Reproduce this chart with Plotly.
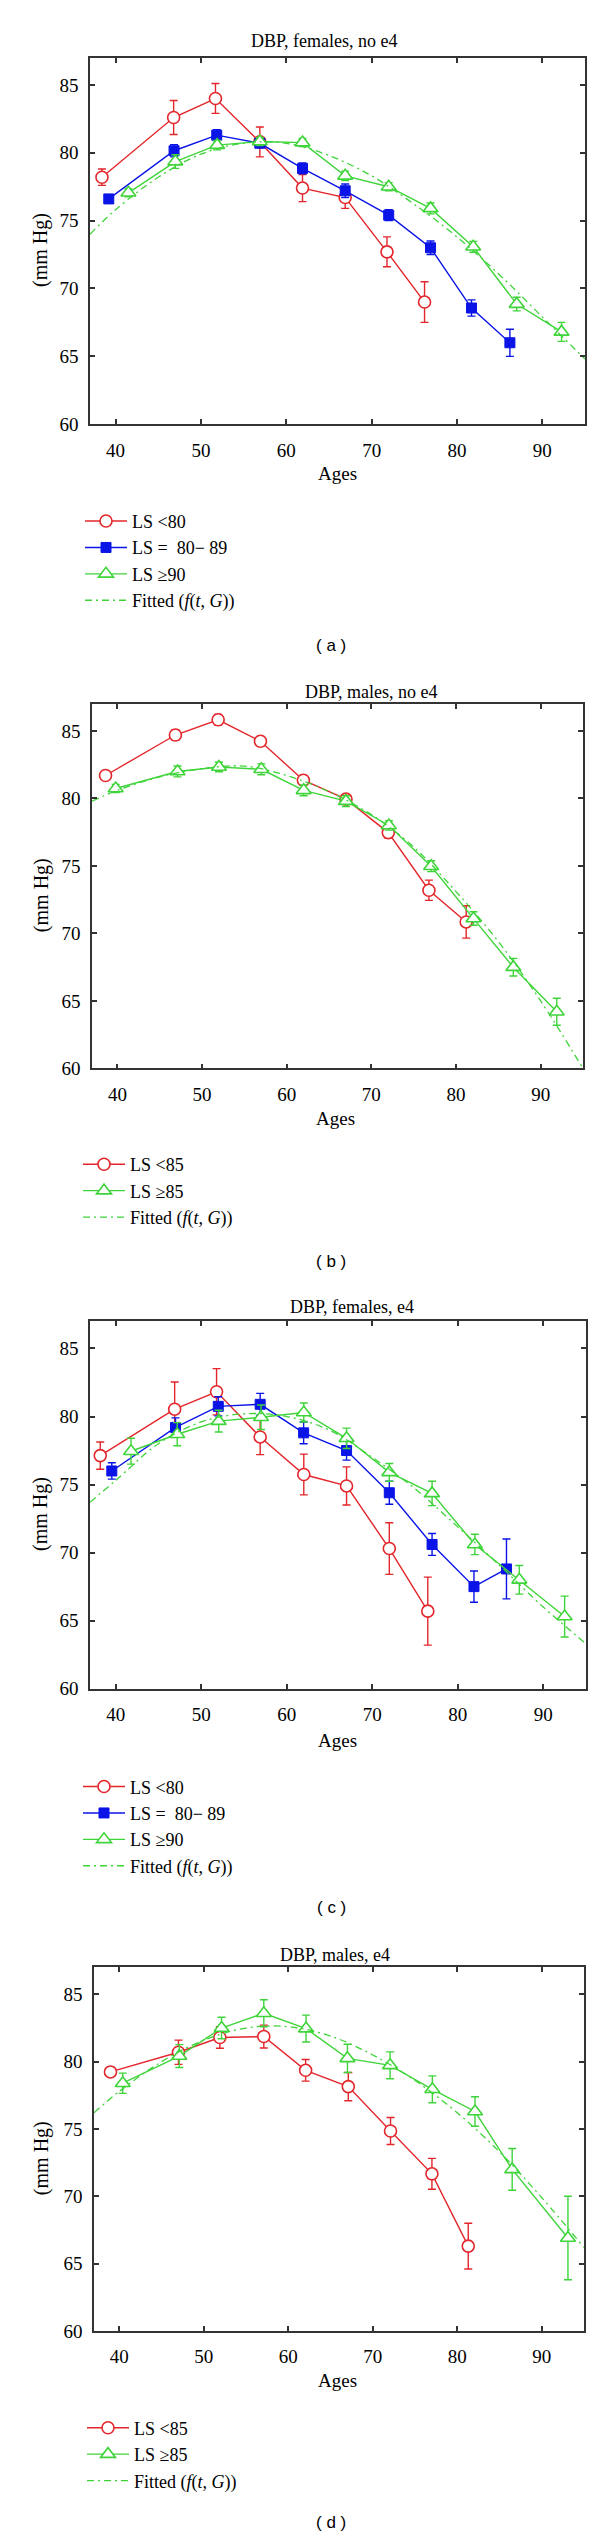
import plotly.graph_objects as go

W, H = 600, 2540

# ---------------- data ----------------
# Panel (a) DBP, females, no e4
a_red_x = [38.4, 46.8, 51.7, 56.9, 61.9, 66.9, 71.8, 76.2]
a_red_y = [78.2, 82.6, 84.0, 80.8, 77.4, 76.7, 72.7, 69.0]
a_red_e = [0.6, 1.25, 1.1, 1.1, 1.0, 0.8, 1.1, 1.5]
a_blue_x = [39.2, 46.85, 51.85, 56.9, 61.9, 66.9, 72.0, 76.9, 81.7, 86.2]
a_blue_y = [76.6, 80.15, 81.3, 80.7, 78.85, 77.2, 75.4, 73.0, 68.56, 66.0]
a_blue_e = [0.2, 0.45, 0.4, 0.3, 0.4, 0.5, 0.4, 0.5, 0.6, 1.0]
a_green_x = [41.5, 47.0, 51.9, 56.9, 61.9, 66.9, 72.0, 76.9, 81.9, 87.0, 92.25]
a_green_y = [77.05, 79.35, 80.56, 80.83, 80.75, 78.3, 77.5, 75.9, 73.07, 68.85, 66.8]
a_green_e = [0.3, 0.5, 0.35, 0.3, 0.3, 0.35, 0.3, 0.4, 0.4, 0.5, 0.7]
a_fit_x = [37, 40, 45, 50, 55, 60, 65, 70, 75, 80, 85, 90, 95]
a_fit_y = [74.0, 75.8, 78.2, 79.9, 80.7, 80.7, 79.8, 78.3, 76.2, 73.8, 71.0, 67.9, 64.8]

# Panel (b) DBP, males, no e4
b_red_x = [38.6, 46.85, 51.9, 56.9, 61.97, 67.0, 72.0, 76.8, 81.2]
b_red_y = [81.7, 84.7, 85.83, 84.24, 81.35, 79.95, 77.47, 73.2, 70.85]
b_red_e = [0.2, 0.4, 0.4, 0.35, 0.35, 0.3, 0.4, 0.75, 1.2]
b_green_x = [39.8, 47.1, 52.0, 57.0, 62.0, 67.0, 72.07, 77.06, 82.06, 86.77, 91.9]
b_green_y = [80.74, 82.0, 82.33, 82.16, 80.6, 79.8, 78.0, 74.98, 71.1, 67.5, 64.2]
b_green_e = [0.3, 0.4, 0.35, 0.4, 0.4, 0.4, 0.35, 0.4, 0.5, 0.65, 1.0]
b_fit_x = [37, 40, 45, 50, 55, 60, 65, 70, 75, 80, 85, 90, 95]
b_fit_y = [79.8, 80.6, 81.6, 82.2, 82.4, 81.7, 80.5, 78.8, 76.4, 73.1, 69.4, 65.0, 60.0]

# Panel (c) DBP, females, e4
c_red_x = [38.2, 46.9, 51.8, 56.9, 62.0, 67.0, 72.0, 76.5]
c_red_y = [77.13, 80.54, 81.82, 78.5, 75.74, 74.9, 70.3, 65.7]
c_red_e = [1.0, 2.0, 1.7, 1.3, 1.5, 1.4, 1.9, 2.5]
c_blue_x = [39.55, 47.0, 52.0, 56.9, 61.98, 67.0, 72.0, 77.0, 81.9, 85.7]
c_blue_y = [76.0, 79.2, 80.75, 80.9, 78.8, 77.5, 74.4, 70.6, 67.5, 68.8]
c_blue_e = [0.6, 0.7, 0.7, 0.8, 0.8, 0.7, 0.85, 0.8, 1.15, 2.2]
c_green_x = [41.8, 47.2, 52.05, 57.0, 62.0, 67.0, 72.0, 77.0, 82.0, 87.2, 92.5]
c_green_y = [77.45, 78.7, 79.66, 79.95, 80.3, 78.4, 75.9, 74.35, 70.6, 68.0, 65.3]
c_green_e = [0.95, 0.85, 0.8, 0.9, 0.7, 0.75, 0.65, 0.9, 0.75, 1.05, 1.5]
c_fit_x = [37, 40, 45, 50, 55, 60, 65, 70, 75, 80, 85, 90, 95]
c_fit_y = [73.7, 75.3, 78.0, 79.6, 80.2, 80.0, 79.0, 77.0, 74.7, 71.9, 69.0, 66.0, 63.3]

# Panel (d) DBP, males, e4
d_red_x = [38.95, 47.0, 51.9, 57.1, 62.05, 67.1, 72.1, 77.0, 81.3]
d_red_y = [79.24, 80.7, 81.8, 81.87, 79.36, 78.15, 74.85, 71.67, 66.3]
d_red_e = [0.3, 0.9, 0.8, 0.85, 0.8, 1.05, 1.0, 1.15, 1.7]
d_green_x = [40.4, 47.1, 52.1, 57.1, 62.1, 67.0, 72.05, 77.05, 82.1, 86.5, 93.1]
d_green_y = [78.4, 80.42, 82.5, 83.6, 82.46, 80.25, 79.73, 77.95, 76.3, 72.0, 66.9]
d_green_e = [0.75, 0.85, 0.8, 1.0, 1.0, 1.05, 1.0, 1.0, 1.1, 1.55, 3.1]
d_fit_x = [37, 40, 45, 50, 55, 60, 65, 70, 75, 80, 85, 90, 95]
d_fit_y = [76.2, 77.8, 80.0, 81.6, 82.5, 82.6, 81.9, 80.5, 78.6, 76.2, 73.3, 69.9, 66.2]

titles = ["DBP, females, no e4", "DBP, males, no e4", "DBP, females, e4", "DBP, males, e4"]
panel_tags = ["( a )", "( b )", "( c )", "( d )"]
x_ticks = [40, 50, 60, 70, 80, 90]
y_ticks = [60, 65, 70, 75, 80, 85]
x_title = "Ages"
y_title = "(mm Hg)"
fit_name = "Fitted (<i>f</i>(<i>t</i>, <i>G</i>))"

# ---------------- styling / layout ----------------
RED = "#e3262b"
BLUE = "#0a14e6"
GREEN = "#3fd43a"
SERIF = "Liberation Serif"

# pixel boxes of the plot areas (x0, x1, y0, y1)
boxes = [(82, 577, 50, 418), (84, 575, 699, 1065), (82, 578, 1319, 1688), (86, 576, 1968, 2333)]
title_pos = [(316, 33), (363, 687), (344, 1305), (327, 1955)]
ages_pos = [(329, 468), (327, 1115), (329, 1740), (329, 2383)]
tag_pos = [(323, 640), (323, 1259), (323, 1908), (323, 2525)]
legend_pos = [(72, 497), (70, 1143), (70, 1768), (74, 2412)]


def px(x):
    return x / W


def py(y):
    return 1 - y / H


panels = [
    [("LS <80", a_red_x, a_red_y, a_red_e, "red"),
     ("LS =  80\u2212 89", a_blue_x, a_blue_y, a_blue_e, "blue"),
     ("LS \u226590", a_green_x, a_green_y, a_green_e, "green"),
     (fit_name, a_fit_x, a_fit_y, None, "fit")],
    [("LS <85", b_red_x, b_red_y, b_red_e, "red"),
     ("LS \u226585", b_green_x, b_green_y, b_green_e, "green"),
     (fit_name, b_fit_x, b_fit_y, None, "fit")],
    [("LS <80", c_red_x, c_red_y, c_red_e, "red"),
     ("LS =  80\u2212 89", c_blue_x, c_blue_y, c_blue_e, "blue"),
     ("LS \u226590", c_green_x, c_green_y, c_green_e, "green"),
     (fit_name, c_fit_x, c_fit_y, None, "fit")],
    [("LS <85", d_red_x, d_red_y, d_red_e, "red"),
     ("LS \u226585", d_green_x, d_green_y, d_green_e, "green"),
     (fit_name, d_fit_x, d_fit_y, None, "fit")],
]

fig = go.Figure()
layout = dict(
    width=W, height=H, margin=dict(l=0, r=0, t=0, b=0),
    paper_bgcolor="white", plot_bgcolor="white",
    font=dict(family=SERIF, size=18, color="black"),
    annotations=[],
)

for i, series in enumerate(panels):
    n = i + 1
    xa = "x" if n == 1 else f"x{n}"
    ya = "y" if n == 1 else f"y{n}"
    lg = "legend" if n == 1 else f"legend{n}"
    for name, xs, ys, es, kind in series:
        if kind == "fit":
            fig.add_trace(go.Scatter(
                x=xs, y=ys, name=name, mode="lines", xaxis=xa, yaxis=ya, legend=lg,
                line=dict(color=GREEN, width=1.3, dash="7px,4px,2px,4px", shape="spline"),
            ))
            continue
        if kind == "red":
            col = RED
            mk = dict(symbol="circle", size=12, color="white", line=dict(color=col, width=1.6))
        elif kind == "blue":
            col = BLUE
            mk = dict(symbol="square", size=10, color=col, line=dict(color=col, width=1))
        else:
            col = GREEN
            mk = dict(symbol="triangle-up", size=13, color="white", line=dict(color=col, width=1.6))
        fig.add_trace(go.Scatter(
            x=xs, y=ys, name=name, mode="lines+markers", xaxis=xa, yaxis=ya, legend=lg,
            line=dict(color=col, width=1.4), marker=mk,
            error_y=dict(type="data", array=es, color=col, thickness=1.4, width=4),
        ))

    x0, x1, y0, y1 = boxes[i]
    axis_common = dict(showline=True, linecolor="#333", linewidth=1.5, mirror="ticks",
                       ticks="inside", ticklen=5, tickwidth=1.5, tickcolor="#333",
                       showgrid=False, zeroline=False,
                       tickfont=dict(family=SERIF, size=19, color="black"))
    layout["xaxis" if n == 1 else f"xaxis{n}"] = dict(
        domain=[px(x0), px(x1)], anchor=ya, range=[37, 95], tickvals=x_ticks,
        ticklabelstandoff=8, **axis_common)
    layout["yaxis" if n == 1 else f"yaxis{n}"] = dict(
        domain=[py(y1), py(y0)], anchor=xa, range=[60, 87], tickvals=y_ticks,
        ticklabelstandoff=6, **axis_common)

    lx, ly = legend_pos[i]
    layout[lg] = dict(x=px(lx), y=py(ly), xanchor="left", yanchor="top",
                      bgcolor="rgba(0,0,0,0)", font=dict(family=SERIF, size=18),
                      tracegroupgap=0, itemwidth=42)

    tx, ty = title_pos[i]
    layout["annotations"].append(dict(text=titles[i], x=px(tx), y=py(ty), xref="paper", yref="paper",
                                      showarrow=False, xanchor="center", yanchor="middle",
                                      font=dict(family=SERIF, size=18)))
    ax_, ay_ = ages_pos[i]
    layout["annotations"].append(dict(text=x_title, x=px(ax_), y=py(ay_), xref="paper", yref="paper",
                                      showarrow=False, xanchor="center", yanchor="middle",
                                      font=dict(family=SERIF, size=19)))
    layout["annotations"].append(dict(text=y_title, x=px(33), y=py((y0 + y1) / 2 + 9), xref="paper", yref="paper",
                                      showarrow=False, xanchor="center", yanchor="middle", textangle=-90,
                                      font=dict(family=SERIF, size=20)))
    gx, gy = tag_pos[i]
    layout["annotations"].append(dict(text=panel_tags[i], x=px(gx), y=py(gy), xref="paper", yref="paper",
                                      showarrow=False, xanchor="center", yanchor="middle",
                                      font=dict(family="Liberation Sans", size=17)))

fig.update_layout(**layout)
fig.write_html("out.html")
